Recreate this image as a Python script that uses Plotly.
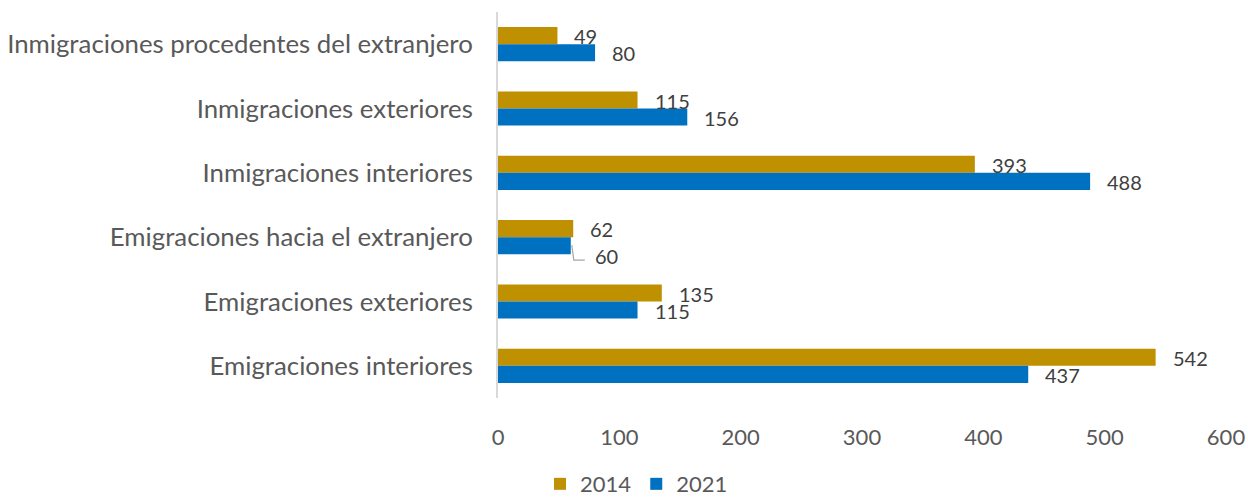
import plotly.graph_objects as go

# Categories, top to bottom as in the source chart
categorias = [
    "Inmigraciones procedentes del extranjero",
    "Inmigraciones exteriores",
    "Inmigraciones interiores",
    "Emigraciones hacia el extranjero",
    "Emigraciones exteriores",
    "Emigraciones interiores",
]
valores_2014 = [49, 115, 393, 62, 135, 542]
valores_2021 = [80, 156, 488, 60, 115, 437]
anios = ["2014", "2021"]
x_ticks = [0, 100, 200, 300, 400, 500, 600]

FONT = "Lato, Source Sans Pro, sans-serif"
colores = {"2014": "#BF9000", "2021": "#0070C0"}

fig = go.Figure()
for anio, vals in zip(anios, [valores_2014, valores_2021]):
    fig.add_trace(go.Bar(
        name=anio, y=categorias, x=vals, orientation="h",
        marker_color=colores[anio], marker_line_width=0,
    ))

# Data labels placed just right of each bar end
for anio, vals, shift in zip(anios, [valores_2014, valores_2021], [8, -9]):
    for cat, v in zip(categorias, vals):
        extra = 0
        xs = 15
        if anio == "2021" and cat == "Emigraciones hacia el extranjero":
            extra, xs = -10, 22
        fig.add_annotation(
            x=v, y=cat, text=str(v), showarrow=False,
            xanchor="left", yanchor="middle",
            xshift=xs, yshift=shift + extra,
            font=dict(family=FONT, size=20, color="#404040"),
        )

# Leader line for the small 2021 label
idx = categorias.index("Emigraciones hacia el extranjero")
fig.add_shape(
    type="path", xref="x", yref="y",
    xsizemode="pixel", ysizemode="pixel",
    xanchor=valores_2021[idx], yanchor=idx,
    path="M 1 -8 L 3 -23 L 14 -23",
    line=dict(color="#A6A6A6", width=1.2),
)

fig.update_layout(
    width=1248, height=499,
    margin=dict(l=498, r=22, t=12, b=101, autoexpand=False),
    paper_bgcolor="white", plot_bgcolor="white",
    barmode="group", bargap=0.47, bargroupgap=0,
    font=dict(family=FONT, size=25, color="#595959"),
    showlegend=True,
    legend=dict(
        orientation="h", xref="container", yref="container",
        x=0.51, xanchor="center", y=0.03, yanchor="middle",
        font=dict(size=22, color="#595959"),
        traceorder="normal",
    ),
)
fig.update_yaxes(
    autorange="reversed", showgrid=False, showline=True,
    linecolor="#D9D9D9", linewidth=2, ticks="", automargin=False,
    ticklabelstandoff=18, tickfont=dict(size=25.8, color="#595959"),
)
fig.update_xaxes(
    range=[0, 600], tickvals=x_ticks, showgrid=False, showline=False,
    zeroline=False, ticks="", ticklabelstandoff=24, automargin=False,
    tickfont=dict(size=22, color="#595959"),
)

# drop the browser's default 8px body margin so the figure fills the window
fig.write_html(
    "out.html",
    config={"displayModeBar": False},
    post_script="document.body.style.margin='0';document.body.style.overflow='hidden';",
)
